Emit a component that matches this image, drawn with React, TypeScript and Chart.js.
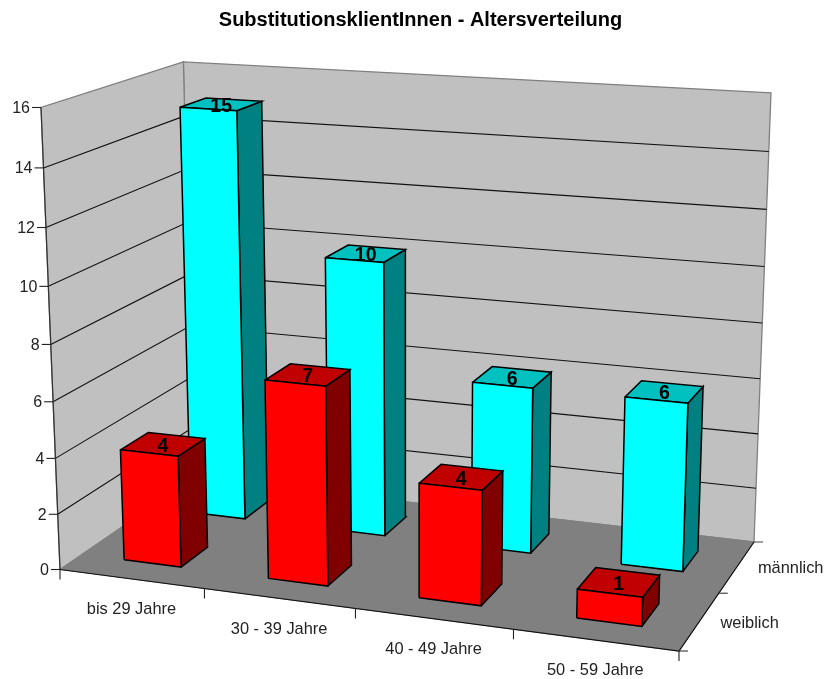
import React, { useEffect, useRef } from "react";
import { Chart, registerables } from "chart.js";

Chart.register(...registerables);

const categories = ["bis 29 Jahre", "30 - 39 Jahre", "40 - 49 Jahre", "50 - 59 Jahre"];
const seriesNames = ["weiblich", "männlich"];
const weiblich = [4, 7, 4, 1];
const maennlich = [15, 10, 6, 6];
const yTicks = [0, 2, 4, 6, 8, 10, 12, 14, 16];

const W = 825, H = 679, TOP = 38, LEFT = 16;
const FONT = '"Liberation Sans", Arial, sans-serif';

// Perspective camera calibrated from the cube's corners (image pixels)
const cO = [60, 569.5, 1], cX = [679, 651, 1], cY = [41, 107.5, 1], cZ = [194, 477.5, 1], cW = [754, 542, 1];
const cEx = 771;
const det = (a: number[], b: number[], c: number[]) =>
  a[0] * (b[1] * c[2] - b[2] * c[1]) - b[0] * (a[1] * c[2] - a[2] * c[1]) + c[0] * (a[1] * b[2] - a[2] * b[1]);
const D = det(cX, cZ, cW.map((v) => -v));
const ka = det(cO, cZ, cW.map((v) => -v)) / D;
const kc = det(cX, cO, cW.map((v) => -v)) / D;
const Q = [0, 1, 2].map((i) => -2 * cO[i] + ka * cX[i] + kc * cZ[i]);
const kb = (Q[0] - cEx * Q[2]) / (cEx - cY[0]);

type P3 = [number, number, number];
function project([c, v, d]: P3) {
  const x = c / categories.length, y = v / 16, z = d / seriesNames.length;
  const o = 1 - x - y - z;
  const h = [0, 1, 2].map((i) => o * cO[i] + x * ka * cX[i] + y * kb * cY[i] + z * kc * cZ[i]);
  return { x: h[0] / h[2], y: h[1] / h[2] };
}

const nC = categories.length, nS = seriesNames.length;
const datasets: any[] = [];
function poly(pts: P3[], fill: string | null, stroke: string, width: number, close = true) {
  const data = pts.map(project);
  if (close) data.push(data[0]);
  datasets.push({
    data,
    showLine: true,
    fill: fill ? "shape" : false,
    backgroundColor: fill ?? "transparent",
    borderColor: stroke,
    borderWidth: width,
    pointRadius: 0,
    tension: 0,
    clip: false,
  });
}
function tick(p: P3, dx: number, dy: number, color = "#222222") {
  const a = project(p);
  datasets.push({
    data: [a, { x: a.x + dx, y: a.y + dy }],
    showLine: true, fill: false, borderColor: color, borderWidth: 1.1, pointRadius: 0, clip: false,
  });
}

// Walls and floor
poly([[0, 0, nS], [nC, 0, nS], [nC, 16, nS], [0, 16, nS]], "#C0C0C0", "#808080", 1.3);
poly([[0, 0, 0], [0, 0, nS], [0, 16, nS], [0, 16, 0]], "#C0C0C0", "#808080", 1.3);
poly([[0, 0, 0], [nC, 0, 0], [nC, 0, nS], [0, 0, nS]], "#808080", "#808080", 1);
for (const v of yTicks.slice(1, -1)) {
  poly([[0, v, 0], [0, v, nS], [nC, v, nS]], null, "#111111", 1.1, false);
}
poly([[0, 0, 0], [0, 16, 0]], null, "#333333", 1.2, false);
poly([[0, 0, 0], [nC, 0, 0], [nC, 0, nS]], null, "#111111", 1.2, false);
for (const v of yTicks) tick([0, v, 0], -9, 0);
for (let i = 0; i <= nC; i++) tick([i, 0, 0], 0, 10);
for (let s = 0; s <= nS; s++) tick([nC, 0, s], 9, 0, s === nS ? "#555555" : "#333333");

// Bars, back row first
const mx = 0.3, mz = 0.3;
function bar(c: number, s: number, v: number, front: string, top: string, side: string) {
  const x0 = c + mx, x1 = c + 1 - mx, z0 = s + mz, z1 = s + 1 - mz;
  poly([[x1, 0, z0], [x1, 0, z1], [x1, v, z1], [x1, v, z0]], side, "#000000", 1.5);
  poly([[x0, v, z0], [x1, v, z0], [x1, v, z1], [x0, v, z1]], top, "#000000", 1.5);
  poly([[x0, 0, z0], [x1, 0, z0], [x1, v, z0], [x0, v, z0]], front, "#000000", 1.5);
}
maennlich.forEach((v, i) => bar(i, 1, v, "#00FFFF", "#00C0C0", "#008080"));
weiblich.forEach((v, i) => bar(i, 0, v, "#FF0000", "#C00000", "#800000"));

const textPlugin = {
  id: "projectedText",
  afterDatasetsDraw(chart: any) {
    const { ctx, scales } = chart;
    const px = (p: { x: number; y: number }) => ({ x: scales.x.getPixelForValue(p.x), y: scales.y.getPixelForValue(p.y) });
    ctx.save();
    ctx.textBaseline = "middle";
    ctx.fillStyle = "#222222";
    ctx.font = `16px ${FONT}`;
    ctx.textAlign = "right";
    for (const v of yTicks) {
      const a = px(project([0, v, 0]));
      ctx.fillText(String(v), a.x - 11, a.y + 1);
    }
    ctx.font = `16.4px ${FONT}`;
    ctx.textAlign = "center";
    categories.forEach((c, i) => {
      const a = px(project([i + 0.5, 0, 0]));
      ctx.fillText(c, a.x, a.y + 31);
    });
    ctx.textAlign = "left";
    seriesNames.forEach((s, i) => {
      const a = px(project([nC, 0, i + 0.5]));
      ctx.fillText(s, a.x + 21, a.y + 2);
    });
    ctx.textAlign = "center";
    ctx.fillStyle = "#000000";
    ctx.font = `bold 19.5px ${FONT}`;
    [weiblich, maennlich].forEach((vals, s) =>
      vals.forEach((v, i) => {
        const a = px(project([i + 0.5, v, s + 0.5]));
        ctx.fillText(String(v), a.x, a.y + 2);
      })
    );
    ctx.restore();
  },
};

export default function App() {
  const ref = useRef<HTMLCanvasElement>(null);
  useEffect(() => {
    const chart = new Chart(ref.current!, {
      type: "scatter",
      data: { datasets: [...datasets].reverse() },
      plugins: [textPlugin],
      options: {
        animation: false,
        responsive: false,
        devicePixelRatio: 1,
        layout: { padding: { left: LEFT } },
        scales: {
          x: { type: "linear", display: false, min: LEFT, max: W },
          y: { type: "linear", display: false, reverse: true, min: TOP, max: H },
        },
        plugins: {
          legend: { display: false },
          tooltip: { enabled: false },
          title: {
            display: true,
            text: "SubstitutionsklientInnen - Altersverteilung",
            fullSize: false,
            color: "#000000",
            font: { family: FONT, size: 20, weight: "bold", lineHeight: 1.2 },
            padding: { top: 8, bottom: 6 },
          },
        },
      },
    } as any);
    return () => chart.destroy();
  }, []);
  return (
    <div style={{ position: "fixed", left: 0, top: 0, width: W, height: H, background: "#fff" }}>
      <canvas ref={ref} width={W} height={H} style={{ display: "block" }} />
    </div>
  );
}
